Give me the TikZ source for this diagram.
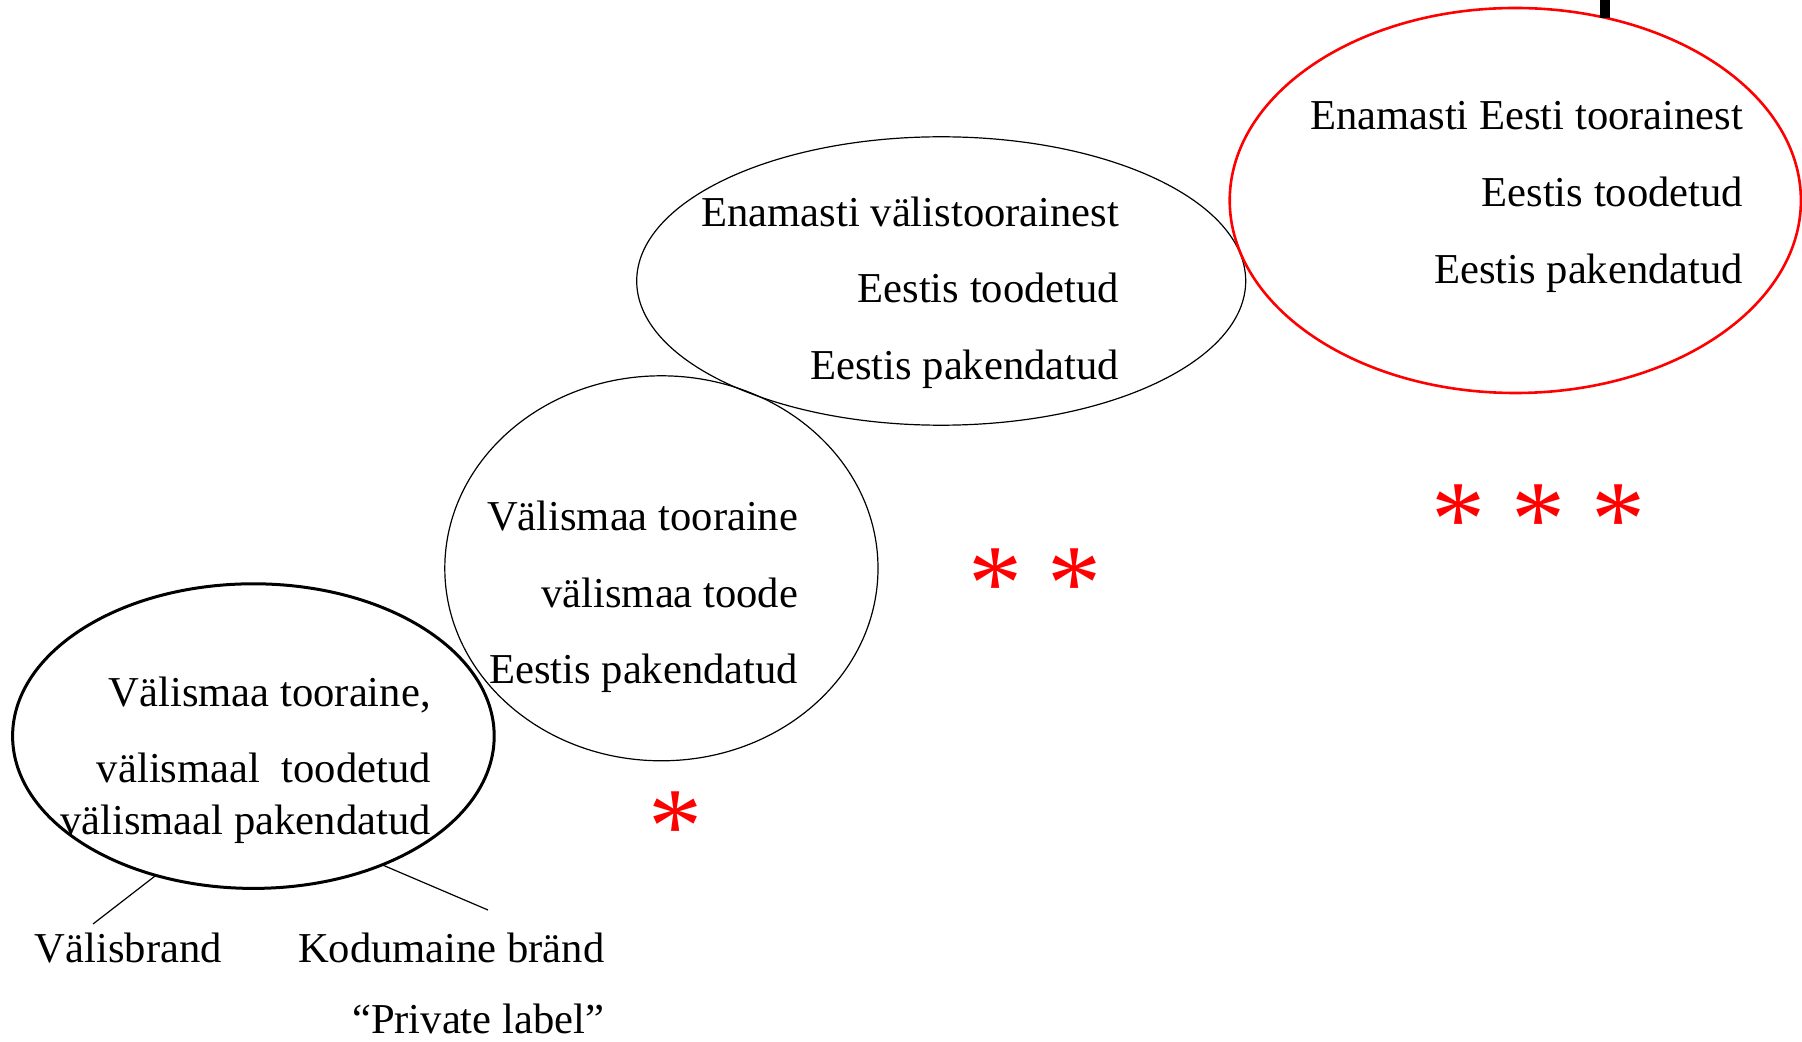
\documentclass[tikz,border=0pt]{standalone}
\usepackage{fontspec}
\setmainfont{Liberation Serif}
\usetikzlibrary{shapes.geometric}
\begin{document}
\begin{tikzpicture}[x=0.5pt,y=-0.5pt,
  ell/.style={ellipse,draw,inner sep=0pt,outer sep=0pt,line width=0.6pt},
  txt/.style={inner sep=0pt,anchor=base east,font=\fontsize{21.3}{25}\selectfont},
  lbl/.style={inner sep=0pt,anchor=base west,font=\fontsize{21.3}{25}\selectfont},
  star/.style={inner sep=0pt,anchor=base,text=red,font=\fontsize{54}{54}\selectfont}]
\useasboundingbox (0,0) rectangle (1802,1042);
% ellipses
\node[ell,line width=1.5pt,minimum width=240.8pt,minimum height=152.3pt] (e1) at (253.4,736.1) {};
\node[ell,minimum width=216.6pt,minimum height=192.5pt] (e2) at (661.4,568.3) {};
\node[ell,minimum width=304.5pt,minimum height=144.2pt] (e3) at (941.2,281) {};
\node[ell,draw=red,line width=1.3pt,minimum width=285.6pt,minimum height=192.5pt] (e4) at (1515.3,200.5) {};
% black bar
\coordinate (b1) at (1605,0);
\coordinate (b2) at (1605,18);
\draw[line width=5pt] (b1) -- (b2);
% texts red ellipse
\node[txt] (t41) at (1743.5,130) {Enamasti Eesti toorainest};
\node[txt] (t42) at (1743.5,207) {Eestis toodetud};
\node[txt] (t43) at (1743.5,284) {Eestis pakendatud};
% upper ellipse
\node[txt] (t31) at (1119.5,226.6) {Enamasti välistoorainest};
\node[txt] (t32) at (1119.5,302.5) {Eestis toodetud};
\node[txt] (t33) at (1119.5,379.5) {Eestis pakendatud};
% middle
\node[txt] (t21) at (798.5,530) {Välismaa tooraine};
\node[txt] (t22) at (798.5,607) {välismaa toode};
\node[txt] (t23) at (798.5,683) {Eestis pakendatud};
% bottom
\node[txt] (t11) at (431,706) {Välismaa tooraine,};
\node[txt] (t12) at (431,782) {välismaal\ \ toodetud};
\node[txt] (t13) at (431,834.5) {välismaal pakendatud};
% labels
\node[lbl] (l1) at (34.5,962) {Välisbrand};
\node[lbl] (l2) at (297.6,962) {Kodumaine bränd};
\node[lbl] (l3) at (351.7,1033) {“Private label”};
\coordinate (c1) at (93,924);
\coordinate (c2) at (488,910);
\draw[line width=0.6pt] (e1.235.4) -- (c1);
\draw[line width=0.6pt] (e1.315.4) -- (c2);
% asterisks
\node[star] (s1) at (675.7,862) {*};
\node[star] (s2) at (995.2,619.6) {*};
\node[star] (s3) at (1074.5,619.6) {*};
\node[star] (s4) at (1458.3,555.4) {*};
\node[star] (s5) at (1538.8,555.4) {*};
\node[star] (s6) at (1618,555.4) {*};
\end{tikzpicture}
\end{document}
